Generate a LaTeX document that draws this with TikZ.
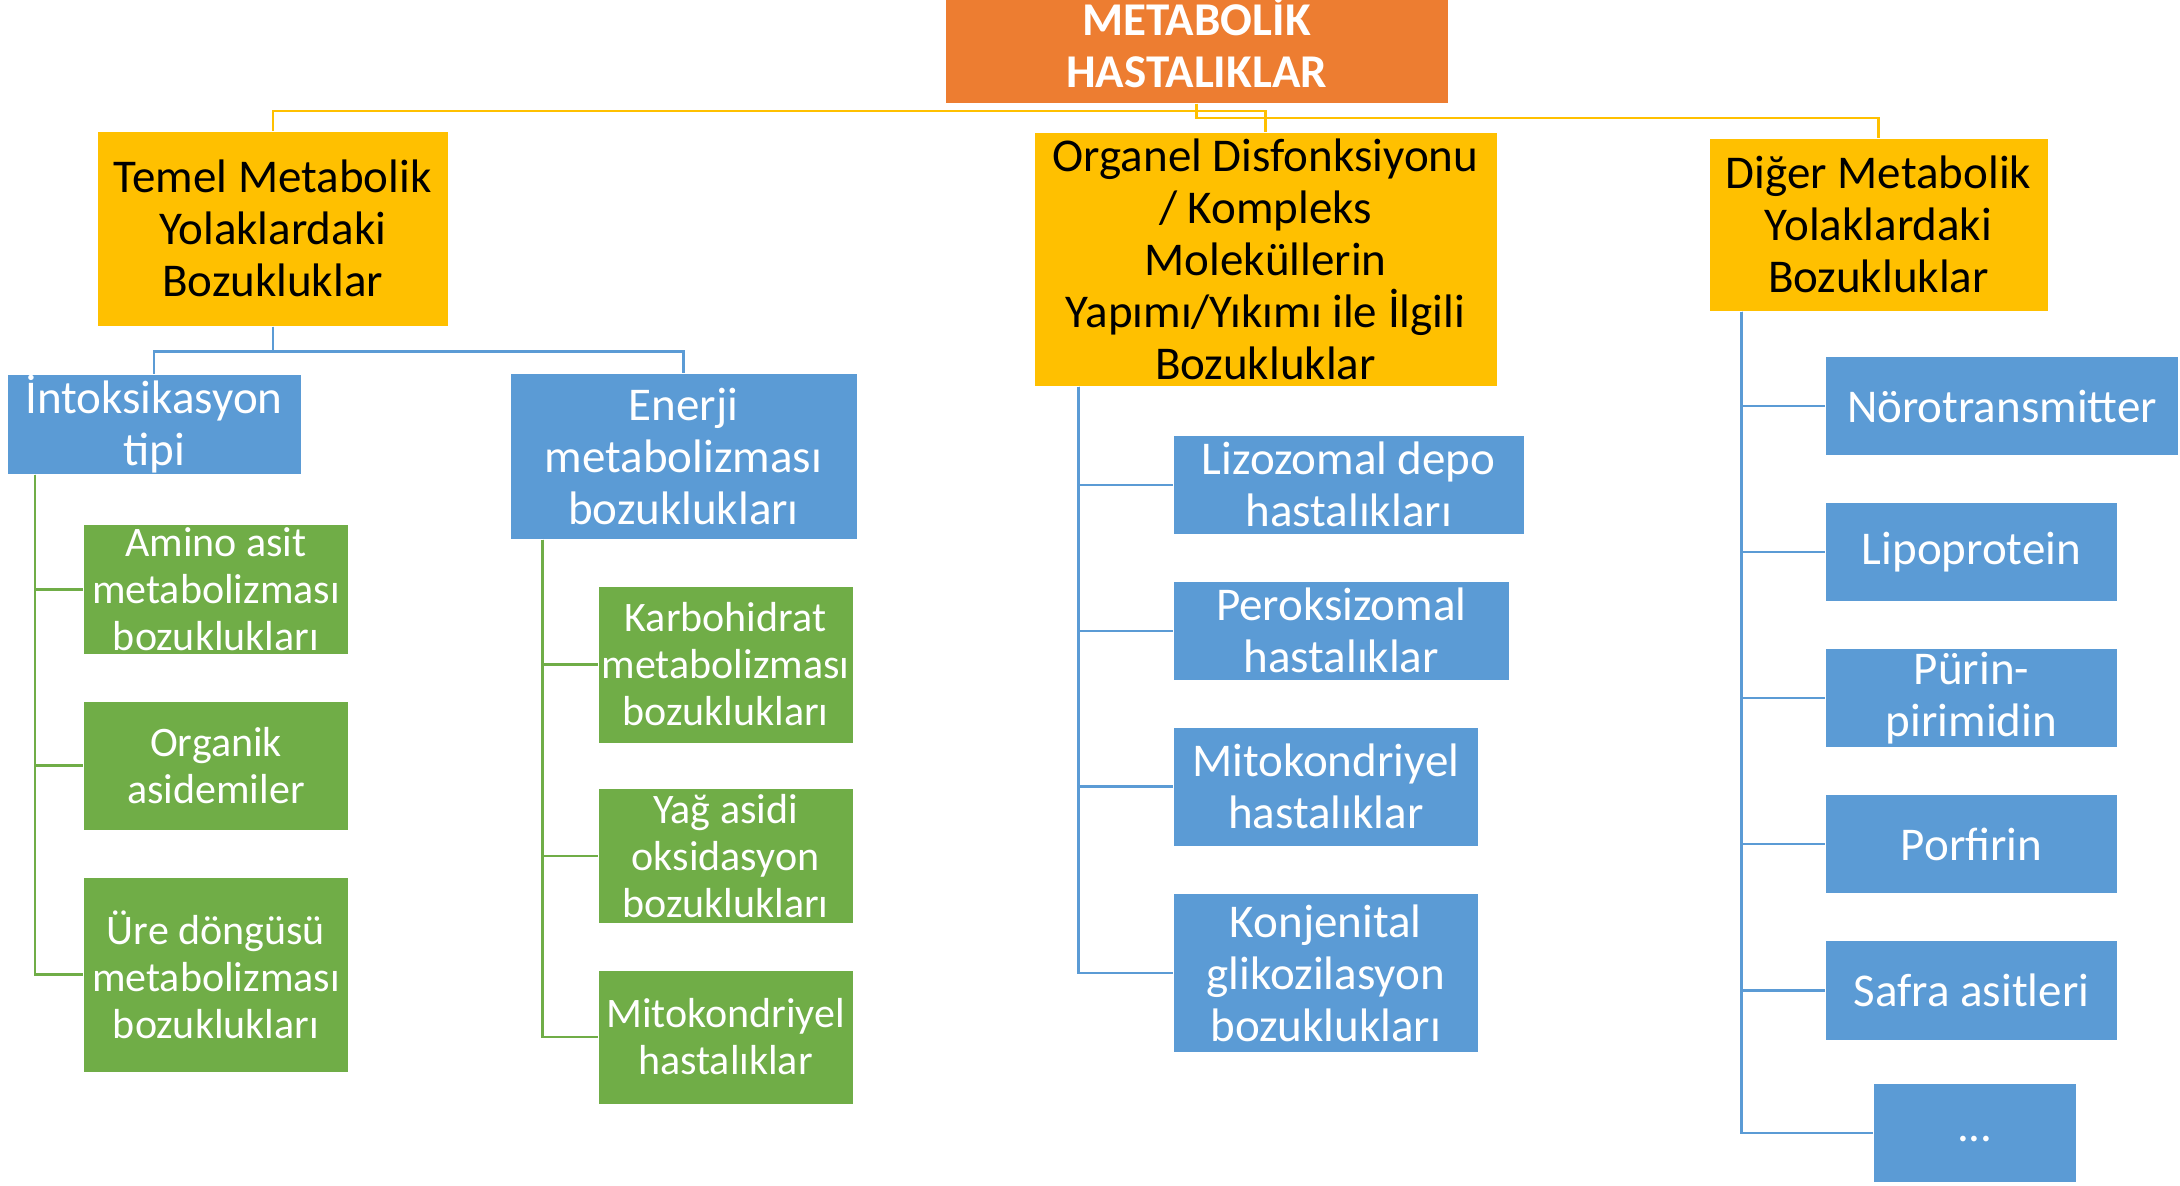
\documentclass[tikz,border=0pt]{standalone}
\usepackage{fontspec}
\setmainfont{Carlito}
\definecolor{cOrange}{HTML}{ED7D31}
\definecolor{cYellow}{HTML}{FFC000}
\definecolor{cBlue}{HTML}{5B9BD5}
\definecolor{cGreen}{HTML}{70AD47}
\begin{document}
\begin{tikzpicture}[x=1pt,y=-1pt,
  box/.style={inner sep=0pt, align=center, draw=white, line width=1pt},
  bigfont/.style={font=\fontsize{47}{52}\selectfont},
  smallfont/.style={font=\fontsize{42}{47}\selectfont},
  obox/.style={box, fill=cOrange, text=white, font=\fontsize{47}{52}\bfseries\selectfont},
  ybox/.style={box, fill=cYellow, text=black, bigfont},
  bbox/.style={box, fill=cBlue, text=white, bigfont},
  gbox/.style={box, fill=cGreen, text=white, smallfont},
  yl/.style={draw=cYellow, line width=2.5pt},
  bl/.style={draw=cBlue, line width=2.5pt},
  gl/.style={draw=cGreen, line width=2.5pt}]
\useasboundingbox (0,0) rectangle (2180,1186);

% level 0
\node[obox, minimum width=503pt, minimum height=100pt] (top) at (1196.5,50) {\raisebox{3pt}{\begin{tabular}{@{}c@{}}METABOLİK\\HASTALIKLAR\end{tabular}}};

% level 1
\node[ybox, minimum width=350.5pt, minimum height=195pt] (temel) at (272.75,228.5) {Temel Metabolik\\Yolaklardaki\\Bozukluklar};
\node[ybox, minimum width=463pt, minimum height=254pt] (organel) at (1265.5,259) {Organel Disfonksiyonu\\/ Kompleks\\Moleküllerin\\Yapımı/Yıkımı ile İlgili\\Bozukluklar};
\node[ybox, minimum width=339pt, minimum height=173pt] (diger) at (1878.5,224.5) {Diğer Metabolik\\Yolaklardaki\\Bozukluklar};

% level 2 (left)
\node[bbox, minimum width=294pt, minimum height=100pt] (into) at (154,424) {İntoksikasyon\\tipi};
\node[bbox, minimum width=347pt, minimum height=166pt] (enerji) at (683.5,456) {Enerji\\metabolizması\\bozuklukları};

% green leaves
\node[gbox, minimum width=264.5pt, minimum height=130pt] (amino) at (216,589.5) {Amino asit\\metabolizması\\bozuklukları};
\node[gbox, minimum width=264.5pt, minimum height=129pt] (organik) at (216,765.5) {Organik\\asidemiler};
\node[gbox, minimum width=264.5pt, minimum height=195pt] (ure) at (216,974.5) {Üre döngüsü\\metabolizması\\bozuklukları};
\node[gbox, minimum width=255pt, minimum height=157pt] (karbo) at (725.5,664.5) {Karbohidrat\\metabolizması\\bozuklukları};
\node[gbox, minimum width=255pt, minimum height=134.5pt] (yag) at (725.5,856) {Yağ asidi\\oksidasyon\\bozuklukları};
\node[gbox, minimum width=255pt, minimum height=134pt] (mitoa) at (725.5,1037) {Mitokondriyel\\hastalıklar};

% organel children
\node[bbox, minimum width=351.5pt, minimum height=99.5pt] (lizo) at (1348.75,484.75) {Lizozomal depo\\hastalıkları};
\node[bbox, minimum width=336.5pt, minimum height=99.6pt] (perok) at (1341.25,630.8) {Peroksizomal\\hastalıklar};
\node[bbox, minimum width=305.6pt, minimum height=119.4pt] (mitob) at (1325.8,786.7) {Mitokondriyel\\hastalıklar};
\node[bbox, minimum width=305.6pt, minimum height=159.7pt] (konj) at (1325.8,972.85) {Konjenital\\glikozilasyon\\bozuklukları};

% diger children
\node[bbox, minimum width=353pt, minimum height=99pt] (noro) at (2002,406) {Nörotransmitter};
\node[bbox, minimum width=292pt, minimum height=99pt] (lipo) at (1971.5,552) {Lipoprotein};
\node[bbox, minimum width=292pt, minimum height=98.6pt] (purin) at (1971.5,698) {Pürin-\\pirimidin};
\node[bbox, minimum width=292pt, minimum height=99.8pt] (porf) at (1971.5,844) {Porfirin};
\node[bbox, minimum width=292pt, minimum height=100.3pt] (safra) at (1971.5,990.3) {Safra asitleri};
\node[bbox, minimum width=202.3pt, minimum height=98.4pt] (dots) at (1974.85,1132.8) {\raisebox{-18pt}{...}};

% yellow connectors
\draw[yl] (top.south) -- ++(0,7) -| (temel.north);
\draw[yl] (top.south) -- ++(0,7) -| (organel.north);
\draw[yl] (top.south) -- ++(0,14) -| (diger.north);

% blue connectors from Temel
\draw[bl] (temel.south) -- ++(0,25) -| (into.north);
\draw[bl] (temel.south) -- ++(0,25) -| (enerji.north);

% green connectors
\draw[gl] ([xshift=28.6pt]into.south west) |- (amino.west);
\draw[gl] ([xshift=28.6pt]into.south west) |- (organik.west);
\draw[gl] ([xshift=28.6pt]into.south west) |- (ure.west);
\draw[gl] ([xshift=33pt]enerji.south west) |- (karbo.west);
\draw[gl] ([xshift=33pt]enerji.south west) |- (yag.west);
\draw[gl] ([xshift=33pt]enerji.south west) |- (mitoa.west);

% organel blue connectors
\draw[bl] ([xshift=45pt]organel.south west) |- (lizo.west);
\draw[bl] ([xshift=45pt]organel.south west) |- (perok.west);
\draw[bl] ([xshift=45pt]organel.south west) |- (mitob.west);
\draw[bl] ([xshift=45pt]organel.south west) |- (konj.west);

% diger blue connectors
\draw[bl] ([xshift=33pt]diger.south west) |- (noro.west);
\draw[bl] ([xshift=33pt]diger.south west) |- (lipo.west);
\draw[bl] ([xshift=33pt]diger.south west) |- (purin.west);
\draw[bl] ([xshift=33pt]diger.south west) |- (porf.west);
\draw[bl] ([xshift=33pt]diger.south west) |- (safra.west);
\draw[bl] ([xshift=33pt]diger.south west) |- (dots.west);
\end{tikzpicture}
\end{document}
